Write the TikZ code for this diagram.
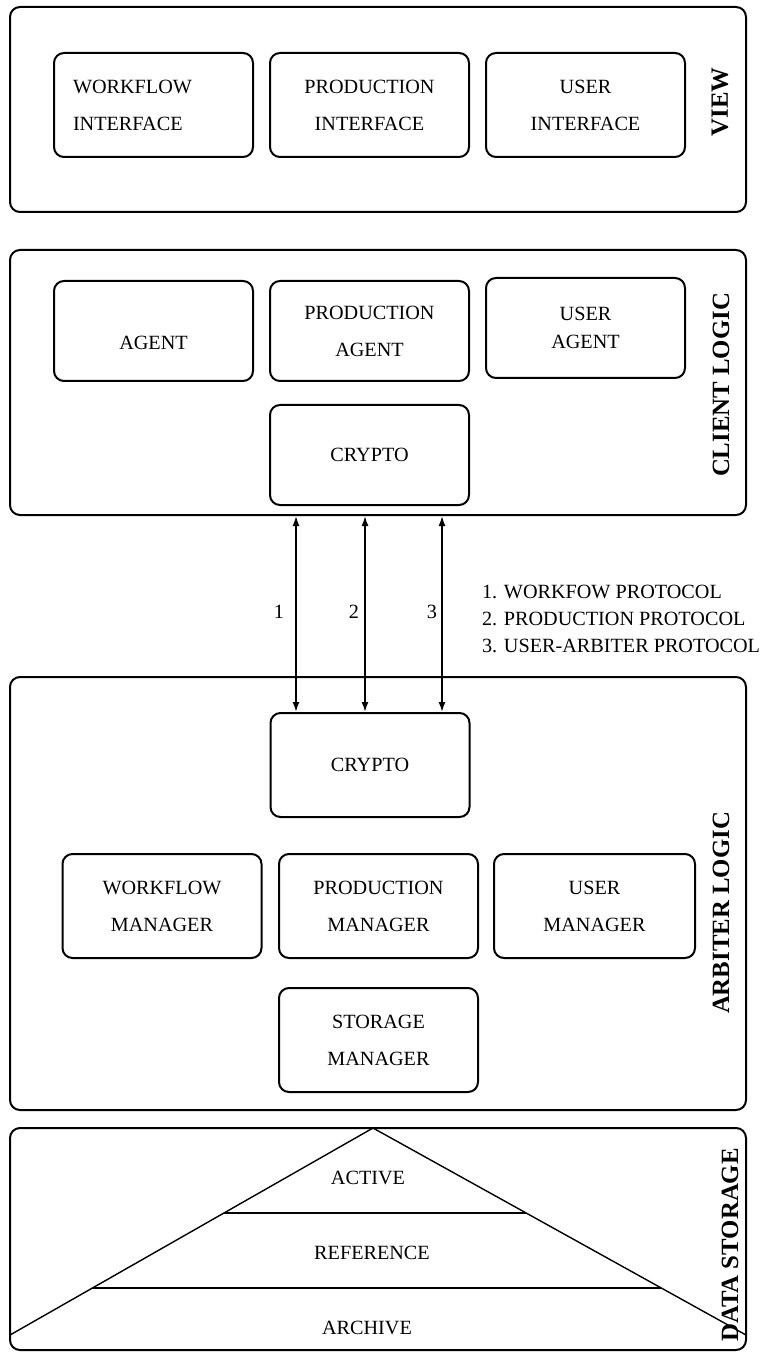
\documentclass[tikz,border=0pt]{standalone}
\usepackage{fontspec}
\setmainfont{Liberation Serif}
\usetikzlibrary{arrows.meta}

\begin{document}
\begin{tikzpicture}[x=0.5pt,y=-0.5pt,
    layer/.style={draw,line width=1pt,rounded corners=5pt,minimum width=368pt},
    module/.style={draw,line width=1pt,rounded corners=5pt,minimum width=99.5pt,minimum height=52pt,align=center,font=\fontsize{10.1}{18.5}\selectfont},
    tag/.style={rotate=90,font=\fontsize{12.4}{14}\selectfont\bfseries},
    txt/.style={font=\fontsize{10.1}{12}\selectfont},
    proto/.style={line width=0.8pt,{Latex[length=5pt,width=3.5pt]}-{Latex[length=5pt,width=3.5pt]}}]
    \useasboundingbox (0,0) rectangle (766,1352);

    % layers
    \node[layer,minimum height=102.5pt] (view) at (378,109.5) {};
    \node[layer,minimum height=132.5pt] (client) at (378,382.5) {};
    \node[layer,minimum height=216.5pt] (arbiter) at (378,893.5) {};
    \node[layer,minimum height=111pt] (storage) at (378,1239) {};

    \node[tag] (tview) at (720,102) {VIEW};
    \node[tag] (tclient) at (721,385) {CLIENT LOGIC};
    \node[tag] (tarbiter) at (721,913) {ARBITER LOGIC};
    \node[tag] (tstorage) at (730,1245) {DATA STORAGE};

    % view
    \node[module,text width=80.5pt,align=left] (wfi) at (153.5,105) {WORKFLOW\\INTERFACE};
    \node[module] (pri) at (369.5,105) {PRODUCTION\\INTERFACE};
    \node[module] (usi) at (585.5,105) {USER\\INTERFACE};

    % client logic
    \node[module,minimum height=50pt] (wfa) at (153.5,331) {\mbox{}\\AGENT};
    \node[module,minimum height=50pt] (pra) at (369.5,331) {PRODUCTION\\AGENT};
    \node[module,minimum height=50pt,font=\fontsize{10.1}{14}\selectfont] (usa) at (585.5,328) {USER\\AGENT};
    \node[module,minimum height=50pt] (cca) at (369.5,455) {CRYPTO};

    % arbiter logic
    \node[module] (ccb) at (370,765) {CRYPTO};
    \node[module] (wfm) at (162,906) {WORKFLOW\\MANAGER};
    \node[module] (prm) at (378.5,906) {PRODUCTION\\MANAGER};
    \node[module,minimum width=100.5pt] (usm) at (594.5,906) {USER\\MANAGER};
    \node[module] (stm) at (378.5,1040) {STORAGE\\MANAGER};

    % protocols
    \foreach \x/\n/\lx in {296/1/279,365/2/354,442/3/432} {
        \coordinate (p\n) at (\x,0);
        \draw[proto] (p\n |- client.south) -- (p\n |- ccb.north);
        \node[txt] (d\n) at (\lx,612) {\n};
    }
    \node[txt,anchor=west] (l1) at (475,592) {1. WORKFOW PROTOCOL};
    \node[txt,anchor=west] (l2) at (475,619) {2. PRODUCTION PROTOCOL};
    \node[txt,anchor=west] (l3) at (475,646) {3. USER-ARBITER PROTOCOL};

    % data storage
    \draw[line width=0.7pt] (10,1335) -- (373,1128) -- (746,1335);
    \draw[line width=0.7pt] (224,1213) -- (526,1213);
    \draw[line width=0.7pt] (92,1288) -- (661,1288);
    \node[txt] (act) at (368,1178) {ACTIVE};
    \node[txt] (ref) at (372,1253) {REFERENCE};
    \node[txt] (arc) at (367,1328) {ARCHIVE};
\end{tikzpicture}
\end{document}
